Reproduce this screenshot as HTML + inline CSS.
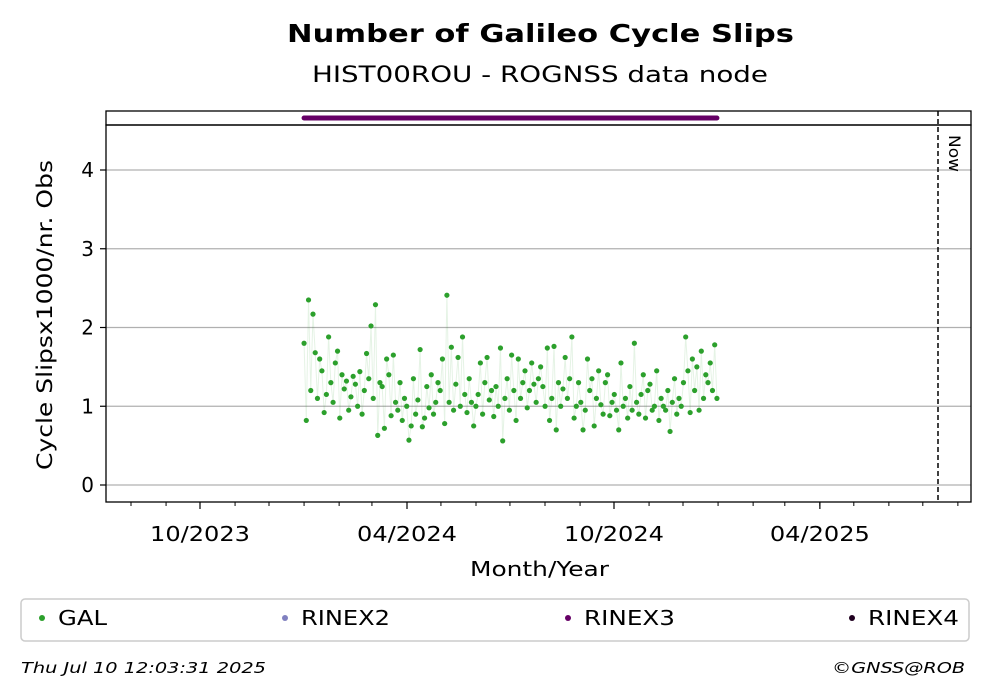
<!DOCTYPE html>
<html><head><meta charset="utf-8"><style>
body{margin:0;background:#fff;}
svg{display:block;font-family:"DejaVu Sans","Liberation Sans",sans-serif;}
</style></head><body>
<svg id="chart" width="993" height="699" viewBox="0 0 993 699" xmlns="http://www.w3.org/2000/svg">
<text x="287" y="42" font-size="25" font-weight="bold" textLength="507" lengthAdjust="spacingAndGlyphs">Number of Galileo Cycle Slips</text>
<text x="312" y="82" font-size="22" textLength="456" lengthAdjust="spacingAndGlyphs">HIST00ROU - ROGNSS data node</text>
<rect x="106" y="111" width="865" height="14" fill="none" stroke="#000" stroke-width="1.3"/>
<g id="grid"></g>
<g id="series"></g>
<rect x="106" y="125" width="865" height="377" fill="none" stroke="#000" stroke-width="1.3"/>
<g id="axes"></g>
<line x1="938" y1="111" x2="938" y2="502" stroke="#000" stroke-width="1.5" stroke-dasharray="5,3"/>
<text transform="translate(949,135) rotate(90)" font-size="16" textLength="37" lengthAdjust="spacingAndGlyphs">Now</text>
<text transform="translate(52,470) rotate(-90)" font-size="21" textLength="310" lengthAdjust="spacingAndGlyphs">Cycle Slipsx1000/nr. Obs</text>
<text x="470" y="576" font-size="20" textLength="139" lengthAdjust="spacingAndGlyphs">Month/Year</text>
<g>
<rect x="21" y="599" width="948" height="42" rx="4" fill="#fff" stroke="#ccc" stroke-width="1.5"/>
<g><circle cx="42" cy="618" r="3" fill="#2ca02c"/><text x="58" y="625" font-size="20" textLength="49" lengthAdjust="spacingAndGlyphs">GAL</text></g>
<g><circle cx="285" cy="618" r="3" fill="#8080c0"/><text x="301" y="625" font-size="20" textLength="89" lengthAdjust="spacingAndGlyphs">RINEX2</text></g>
<g><circle cx="568" cy="618" r="3" fill="#660066"/><text x="584" y="625" font-size="20" textLength="91" lengthAdjust="spacingAndGlyphs">RINEX3</text></g>
<g><circle cx="852" cy="618" r="3" fill="#200020"/><text x="868" y="625" font-size="20" textLength="91" lengthAdjust="spacingAndGlyphs">RINEX4</text></g>
</g>
<text x="21" y="673" font-size="15" font-style="italic" textLength="245" lengthAdjust="spacingAndGlyphs">Thu Jul 10 12:03:31 2025</text>
<text x="832" y="673" font-size="15" font-style="italic" textLength="133" lengthAdjust="spacingAndGlyphs">©GNSS@ROB</text>
</svg>
<script>
const yTicks=[0,1,2,3,4];
const xTickLabels=["10/2023","04/2024","10/2024","04/2025"];
const xTickDates=["2023-10-01","2024-04-01","2024-10-01","2025-04-01"];
const seriesStart="2024-01-01";
const seriesEnd="2024-12-31";
const rinex3Start="2024-01-01";
const rinex3End="2024-12-31";
const galValues=[1.8,0.82,2.35,1.2,2.17,1.68,1.1,1.6,1.45,0.92,1.15,1.88,1.3,1.05,1.55,1.7,
0.85,1.4,1.22,1.32,0.95,1.12,1.38,1.28,1.0,1.44,0.9,1.2,1.67,1.35,2.02,
1.1,2.29,0.63,1.3,1.25,0.72,1.6,1.4,0.88,1.65,1.05,0.95,1.3,0.82,1.1,1.0,
0.57,0.75,1.35,0.9,1.08,1.72,0.74,0.85,1.25,0.98,1.4,0.9,1.05,1.3,1.2,
1.6,0.78,2.41,1.05,1.75,0.95,1.28,1.62,1.0,1.88,1.15,0.92,1.35,1.05,0.75,1.0,
1.15,1.55,0.9,1.3,1.62,1.08,1.2,0.87,1.25,1.0,1.74,0.56,1.1,1.35,0.95,
1.65,1.2,0.82,1.6,1.1,1.3,1.45,0.98,1.2,1.55,1.28,1.05,1.35,1.5,1.25,1.0,
1.74,0.82,1.1,1.76,0.7,1.3,1.0,1.22,1.62,1.1,1.35,1.88,0.85,1.0,1.3,
1.05,0.7,0.95,1.6,1.2,1.35,0.75,1.1,1.45,1.02,0.9,1.3,1.4,0.88,1.05,1.15,
0.95,0.7,1.55,1.0,1.1,0.85,1.25,0.95,1.8,1.05,0.9,1.15,1.4,0.85,1.2,
1.28,0.95,1.0,1.45,0.82,1.1,1.0,0.95,1.2,0.68,1.05,1.35,0.9,1.1,1.0,1.3,
1.88,1.45,0.92,1.6,1.2,1.5,0.95,1.7,1.1,1.4,1.3,1.55,1.2,1.78,1.1];
const NS="http://www.w3.org/2000/svg";
const DAY=86400000;
const x0=Date.parse("2023-10-01"), px0=200, pxPerDay=414/366;
function xScale(d){return px0+(Date.parse(d)-x0)/DAY*pxPerDay;}
function xScaleMs(ms){return px0+(ms-x0)/DAY*pxPerDay;}
function yScale(v){return 485-v*78.75;}
function mk(tag,attrs,parent){const e=document.createElementNS(NS,tag);for(const k in attrs)e.setAttribute(k,attrs[k]);parent.appendChild(e);return e;}
const grid=document.getElementById('grid'),axes=document.getElementById('axes'),series=document.getElementById('series');
yTicks.forEach(t=>{
  const y=yScale(t);
  const g=mk('line',{x1:106,x2:971,y1:y,y2:y,stroke:'#b0b0b0','stroke-width':1.3},grid);
  
  
  const tk=mk('line',{x1:100,x2:106,y1:y,y2:y,stroke:'#000','stroke-width':1.2},axes);
  
  
  const tx=mk('text',{x:94,y:y+7,'text-anchor':'end','font-size':20},axes);
  
  
  tx.textContent=t;
});
for(let m=0;m<26;m++){
  const d=new Date(Date.UTC(2023,6+m,1));
  const x=xScaleMs(d.getTime());
  if(x<106||x>971)continue;
  const t=mk('line',{x1:x,x2:x,y1:502,y2:506,stroke:'#000','stroke-width':1},axes);
  
  
}
xTickDates.forEach((d,i)=>{
  const x=xScale(d);
  const t=mk('line',{x1:x,x2:x,y1:502,y2:509,stroke:'#000','stroke-width':1.2},axes);
  
  
  const tx=mk('text',{x:x-50,y:541,'font-size':20,textLength:100,lengthAdjust:'spacingAndGlyphs'},axes);
  
  
  tx.textContent=xTickLabels[i];
});
const s=Date.parse(seriesStart),e=Date.parse(seriesEnd);
const step=(e-s)/(galValues.length-1);
const pts=galValues.map((v,i)=>[xScaleMs(s+i*step),yScale(v)]);
const pl=mk('polyline',{points:pts.map(p=>p.join(',')).join(' '),fill:'none',stroke:'#2ca02c','stroke-opacity':0.12,'stroke-width':1},series);


pts.forEach(p=>{
  const c=mk('circle',{cx:p[0],cy:p[1],r:2.6,fill:'#2ca02c'},series);
  
  
});
const r3=mk('line',{x1:xScale(rinex3Start),x2:xScale(rinex3End),y1:118,y2:118,stroke:'#660066','stroke-width':5,'stroke-linecap':'round'},series);


</script>
</body></html>
